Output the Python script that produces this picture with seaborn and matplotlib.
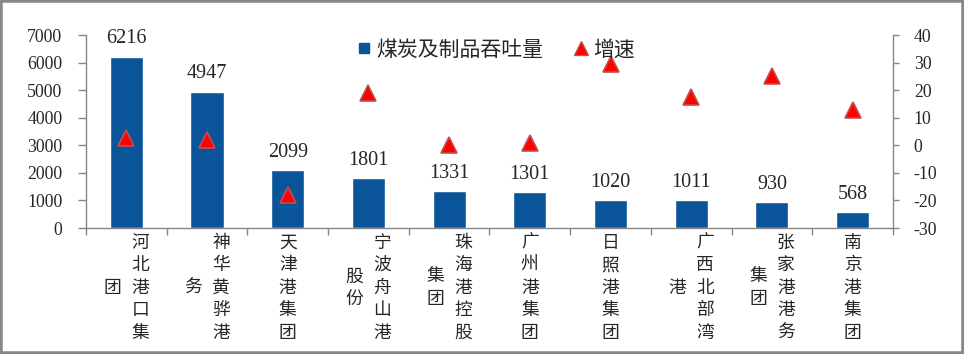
import matplotlib
matplotlib.use('Agg')
from matplotlib import pyplot as plt
from matplotlib.lines import Line2D
from matplotlib.patches import Rectangle
import seaborn as sns
import pandas as pd

# data
ports = ['河北港口集团', '神华黄骅港务', '天津港集团', '宁波舟山港股份', '珠海港控股集团',
         '广州港集团', '日照港集团', '广西北部湾港', '张家港港务集团', '南京港集团']
throughput = [6216, 4947, 2099, 1801, 1331, 1301, 1020, 1011, 930, 568]
growth = [2.7, 2.0, -18.0, 19.0, 0.0, 1.0, 29.7, 17.6, 25.2, 13.0]
left_ticks = [0, 1000, 2000, 3000, 4000, 5000, 6000, 7000]
right_ticks = [-30, -20, -10, 0, 10, 20, 30, 40]
legend_labels = ['煤炭及制品吞吐量', '增速']

bar_color = '#0A5499'
tri_face = '#FF0000'
tri_edge = '#C0504D'
gray = '#868686'
cjk = ['Noto Sans CJK SC', 'DejaVu Sans']

sns.set_style('white')
plt.rcParams['font.family'] = ['Liberation Serif', 'Noto Sans CJK SC']
plt.rcParams['axes.unicode_minus'] = False

df = pd.DataFrame({'port': ports, 'throughput': throughput, 'growth': growth})

fig = plt.figure(figsize=(9.64, 3.54), dpi=100)
ax = fig.add_axes([0.0892, 0.3559, 0.8371, 0.5446])

sns.barplot(data=df, x='port', y='throughput', color=bar_color, saturation=1,
            width=0.41, ax=ax)
ax.bar_label(ax.containers[0], padding=6, fontsize=14.5, family='Liberation Serif')

ax.set_xlim(-0.5, len(ports) - 0.5)
ax.set_ylim(left_ticks[0], left_ticks[-1])
ax.set_yticks(left_ticks)
ax.set_xticks([i - 0.5 for i in range(len(ports) + 1)])
ax.set_xticklabels([])
ax.set_xlabel('')
ax.set_ylabel('')
ax.tick_params(axis='y', direction='out', length=6, width=1, color=gray,
               pad=11, labelsize=12.8, left=True)
ax.tick_params(axis='x', direction='out', length=5, width=1, color=gray, bottom=True)

# vertical category labels, wrapped into columns of five characters
for i, name in enumerate(ports):
    cols = [name[k:k + 5] for k in range(0, len(name), 5)]
    n = len(cols)
    for j, chunk in enumerate(cols):
        dx = ((n - 1) / 2 - j) * 20
        ax.annotate('\n'.join(chunk), xy=(i, 0), xycoords=('data', 'axes fraction'),
                    xytext=(dx, -43), textcoords='offset points', ha='center',
                    va='center', fontsize=12.8, linespacing=1.32, family=cjk)

ax2 = ax.twinx()
ax2.plot(range(len(ports)), growth, ls='none', marker='^', ms=12,
         mfc=tri_face, mec=tri_edge, mew=1.2, zorder=5)
ax2.set_ylim(right_ticks[0], right_ticks[-1])
ax2.set_yticks(right_ticks)
ax2.tick_params(axis='y', direction='out', length=4, width=1, color=gray,
                pad=11, labelsize=12.8, right=True)

for a in (ax, ax2):
    a.spines['top'].set_visible(False)
    for s in ('left', 'right', 'bottom'):
        a.spines[s].set_color(gray)
        a.spines[s].set_linewidth(1)
ax2.spines['left'].set_visible(False)
ax2.spines['bottom'].set_visible(False)
ax.spines['right'].set_visible(False)

handles = [Line2D([], [], ls='none', marker='s', ms=7, color=bar_color),
           Line2D([], [], ls='none', marker='^', ms=10, mfc=tri_face, mec=tri_edge)]
ax2.legend(handles, legend_labels, loc='center', bbox_to_anchor=(0.507, 0.925),
           ncol=2, frameon=False, prop={'family': cjk, 'size': 15},
           handlelength=0.8, handletextpad=0.2, columnspacing=1.4)

fig.patches.append(Rectangle((0, 0), 1, 1, transform=fig.transFigure,
                             fill=False, edgecolor='#888888', lw=4))

fig.savefig('out.png', dpi=100)
